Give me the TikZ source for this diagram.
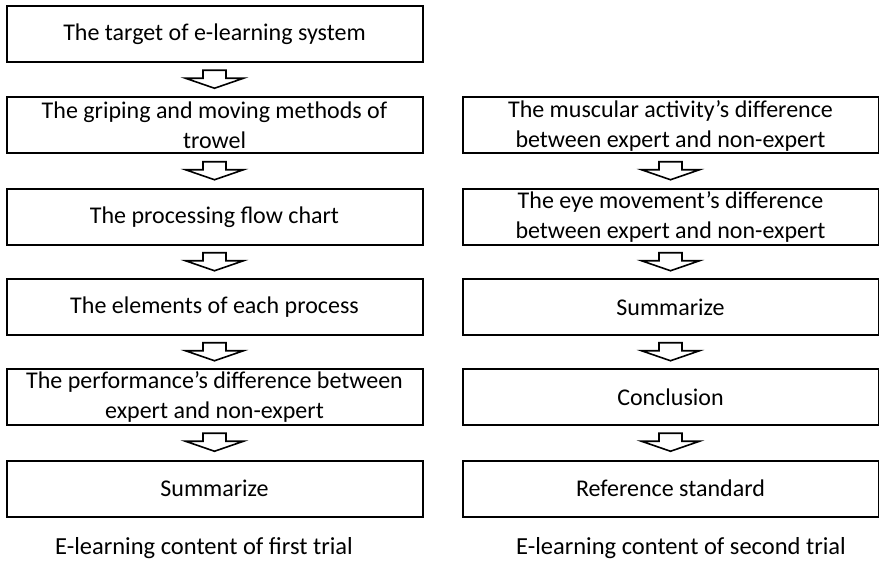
\documentclass[tikz,border=0pt]{standalone}
\usepackage{fontspec}
\setmainfont{Carlito}
\usepackage{tikz}
\usetikzlibrary{calc}

% hollow block arrow between two boxes
\newcommand{\flowarrow}[2]{%
	\draw[hollowarrow] ($(#1.south)!0.5!(#2.north)+(-11.5,-9.5)$) -- ++(23,0) -- ++(0,8) -- ++(17.5,0)
		-- ($(#1.south)!0.5!(#2.north)+(0,8.5)$) -- ++(-29,-10) -- ++(17.5,0) -- cycle;}

\begin{document}
\begin{tikzpicture}[x=1pt,y=-1pt,
	stepbox/.style={draw,line width=2pt,minimum width=416pt,minimum height=56pt,
		align=center,inner sep=0pt,font=\fontsize{24}{30}\selectfont},
	hollowarrow/.style={draw,line width=1.6pt,line join=miter,fill=white},
	caption/.style={font=\fontsize{24.5}{30}\selectfont}]
	\useasboundingbox (0,0) rectangle (879,564);
	% first trial
	\node[stepbox] (L1) at (214.5,34) {The target of e-learning system};
	\node[stepbox] (L2) at (214.5,125.5) {The griping and moving methods of\\trowel};
	\node[stepbox] (L3) at (214.5,217) {The processing flow chart};
	\node[stepbox] (L4) at (214.5,307.5) {The elements of each process};
	\node[stepbox] (L5) at (214.5,397) {The performance’s difference between\\expert and non-expert};
	\node[stepbox] (L6) at (214.5,488.5) {Summarize};
	\node[caption] (LC) at (204,548) {E-learning content of first trial};
	% second trial
	\node[stepbox] (R2) at (670.5,125.5) {The muscular activity’s difference\\between expert and non-expert};
	\node[stepbox] (R3) at (670.5,217) {The eye movement’s difference\\between expert and non-expert};
	\node[stepbox] (R4) at (670.5,307.5) {Summarize};
	\node[stepbox] (R5) at (670.5,397) {Conclusion};
	\node[stepbox] (R6) at (670.5,488.5) {Reference standard};
	\node[caption] (RC) at (681,548) {E-learning content of second trial};
	\flowarrow{L1}{L2}
	\flowarrow{L2}{L3}
	\flowarrow{L3}{L4}
	\flowarrow{L4}{L5}
	\flowarrow{L5}{L6}
	\flowarrow{R2}{R3}
	\flowarrow{R3}{R4}
	\flowarrow{R4}{R5}
	\flowarrow{R5}{R6}
\end{tikzpicture}
\end{document}
